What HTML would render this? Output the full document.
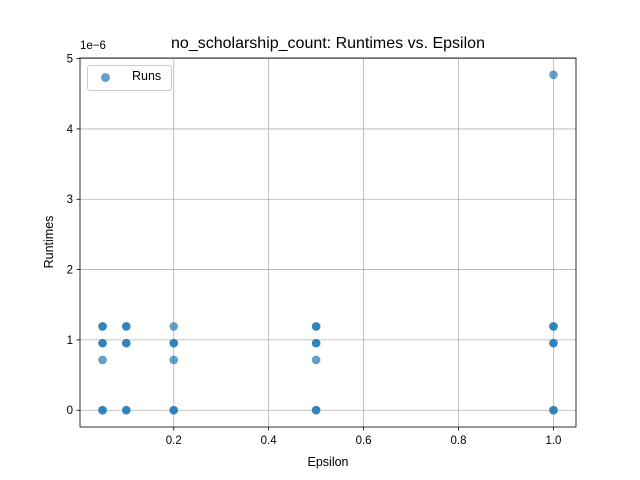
<!DOCTYPE html>
<html><head><meta charset="utf-8">
<style>
html,body{margin:0;padding:0;background:#fff;}
svg{display:block;font-family:"Liberation Sans","DejaVu Sans",sans-serif;}
</style></head>
<body>
<svg id="chart" width="640" height="480" viewBox="0 0 640 480"></svg>
<script>
const epsilons = [0.05,0.05,0.05,0.05,0.05,0.05,0.05, 0.1,0.1,0.1,0.1,0.1,0.1, 0.2,0.2,0.2,0.2,0.2,0.2, 0.5,0.5,0.5,0.5,0.5,0.5,0.5, 1.0,1.0,1.0,1.0,1.0,1.0,1.0];
const runtimes = [0,0,0.715,0.954,0.954,1.192,1.192, 0,0,0.954,0.954,1.192,1.192, 0,0,0.715,0.954,0.954,1.192, 0,0,0.715,0.954,0.954,1.192,1.192, 0,0,0.954,0.954,1.192,1.192,4.77];
const xTicks = [0.2,0.4,0.6,0.8,1.0];
const xTickLabels = ["0.2","0.4","0.6","0.8","1.0"];
const yTicks = [0,1,2,3,4,5];
const yTickLabels = ["0","1","2","3","4","5"];

const NS="http://www.w3.org/2000/svg";
const svg=document.getElementById('chart');
const L=80,R=576,T=58,B=427;
const xMin=0.0025,xMax=1.0475,yMin=-0.2385,yMax=5.0085;
const sx=v=>L+(v-xMin)/(xMax-xMin)*(R-L);
const sy=v=>B-(v-yMin)/(yMax-yMin)*(B-T);
function mk(tag,attrs,parent){const e=document.createElementNS(NS,tag);for(const k in attrs)e.setAttribute(k,attrs[k]);(parent||svg).appendChild(e);return e;}

const grid=mk('g',{});


xTicks.forEach((t,i)=>{
  const x=sx(t);
  mk('line',{x1:x,x2:x,y1:T,y2:B,stroke:'#b0b0b0','stroke-width':0.8},grid);
  mk('line',{x1:x,x2:x,y1:B,y2:B+3.5,stroke:'#000','stroke-width':0.8});
  const tx=mk('text',{x:x,y:B+17,'font-size':11.5,'text-anchor':'middle'});
  tx.textContent=xTickLabels[i];
  
  
});
yTicks.forEach((t,i)=>{
  const y=sy(t);
  mk('line',{x1:L,x2:R,y1:y,y2:y,stroke:'#b0b0b0','stroke-width':0.8},grid);
  mk('line',{x1:L-3.5,x2:L,y1:y,y2:y,stroke:'#000','stroke-width':0.8});
  const tx=mk('text',{x:L-7,y:y+4,'font-size':11.5,'text-anchor':'end'});
  tx.textContent=yTickLabels[i];
  
  
});

const pts=mk('g',{});


epsilons.forEach((e,i)=>{
  const c=mk('circle',{cx:sx(e),cy:sy(runtimes[i]),r:4.3,fill:'#1f77b4','fill-opacity':0.7},pts);
  
  
});

const frame=mk('rect',{x:L,y:T,width:R-L,height:B-T,fill:'none',stroke:'#000','stroke-width':0.8});


</script>
<div style="position:absolute;left:0;top:0;width:640px;height:480px;pointer-events:none;font-family:'Liberation Sans','DejaVu Sans',sans-serif;">
  <div style="position:absolute;left:80px;width:496px;top:35px;text-align:center;font-size:16px;">no_scholarship_count: Runtimes vs. Epsilon</div>
  <div style="position:absolute;left:80px;top:40px;font-size:11.5px;">1e−6</div>
  <div style="position:absolute;left:80px;width:496px;top:455px;text-align:center;font-size:12.5px;">Epsilon</div>
  <div style="position:absolute;left:49px;top:242px;font-size:12.5px;transform:translate(-50%,-50%) rotate(-90deg);">Runtimes</div>
  <div style="position:absolute;left:87px;top:65px;width:83px;height:24px;border:1px solid #ccc;border-radius:3px;background:rgba(255,255,255,0.8);">
    <span style="position:absolute;left:13px;top:7px;width:9px;height:9px;border-radius:50%;background:#1f77b4;opacity:0.7;"></span>
    <span style="position:absolute;left:44px;top:3px;font-size:12.5px;">Runs</span>
  </div>
</div>
</body></html>
